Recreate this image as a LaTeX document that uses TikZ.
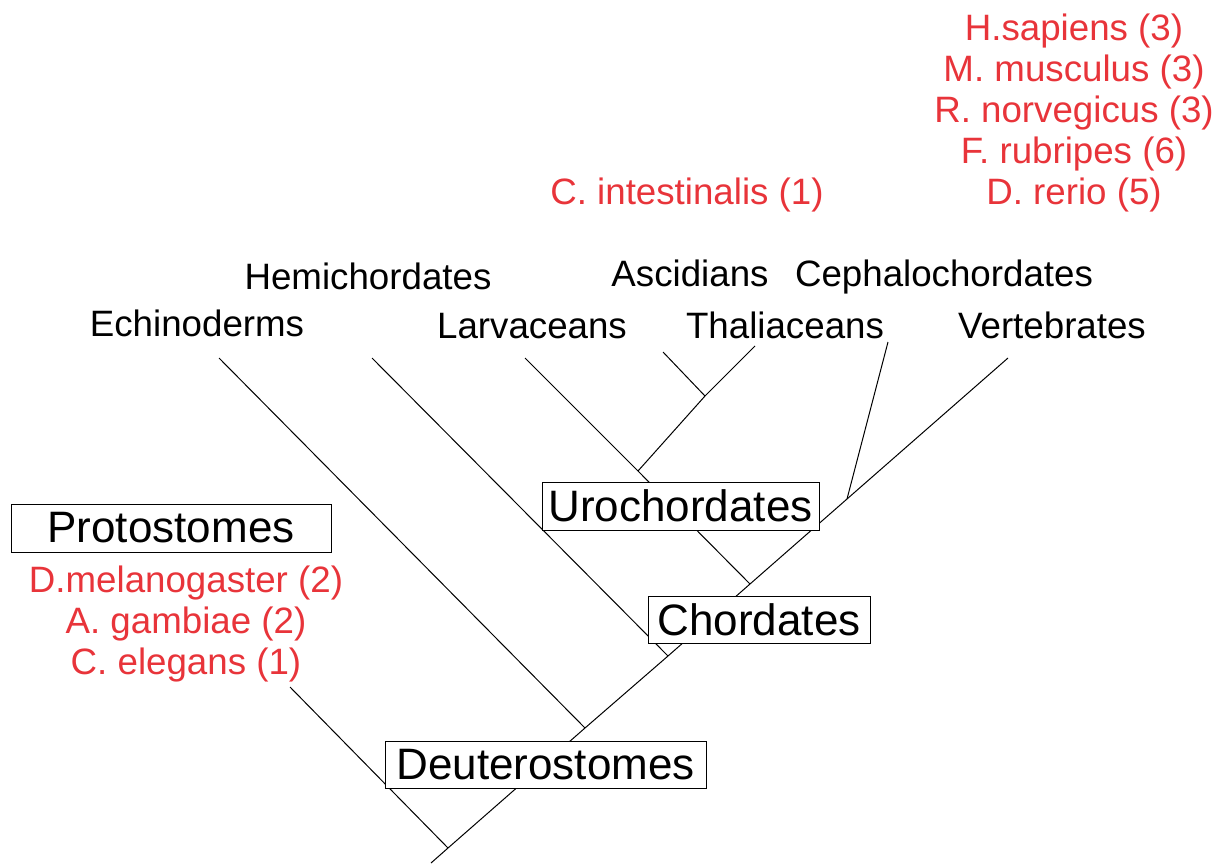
\documentclass[tikz,border=0pt]{standalone}
\usepackage{fontspec}
\setmainfont{Liberation Sans}
\usetikzlibrary{positioning}
\definecolor{specred}{RGB}{232,52,58}

\begin{document}
\begin{tikzpicture}[x=1pt,y=-1pt,
          every node/.style={font=\fontsize{36.7}{41}\selectfont,inner sep=0pt},
          taxon/.style={anchor=base},
          species/.style={anchor=base,text=specred},
          clade/.style={draw,fill=white,line width=1pt,font=\fontsize{44}{50}\selectfont},
          branch/.style={line width=1pt},
        ]
        \useasboundingbox (0,0) rectangle (1216,863);
        % taxon labels
        \node[taxon] (echi) at (197,336) {Echinoderms};
        \node[taxon] (hemi) at (368,289) {Hemichordates};
        \node[taxon] (larv) at (532,338) {Larvaceans};
        \node[taxon] (asci) at (690,286) {Ascidians};
        \node[taxon] (thal) at (785,338) {Thaliaceans};
        \node[taxon] (ceph) at (944,286) {Cephalochordates};
        \node[taxon] (vert) at (1052,338) {Vertebrates};
        % species
        \node[species] (hsap) at (1074,40) {H.sapiens (3)};
        \node[species] (mmus) at (1074,81) {M. musculus (3)};
        \node[species] (rnor) at (1074,122) {R. norvegicus (3)};
        \node[species] (frub) at (1074,163) {F. rubripes (6)};
        \node[species] (drer) at (1074,204) {D. rerio (5)};
        \node[species] (cint) at (687,204) {C. intestinalis (1)};
        \node[species] (dmel) at (186,592) {D.melanogaster (2)};
        \node[species] (agam) at (186,633) {A. gambiae (2)};
        \node[species] (cele) at (186,674) {C. elegans (1)};
        % tips and branch points
        \coordinate (root) at (431,863);
        \coordinate (r0) at (448,848);
        \coordinate (d1) at (585,728);
        \coordinate (c1) at (668,656);
        \coordinate (c2) at (750,584);
        \coordinate (v1) at (847,499);
        \coordinate (u1) at (638,471);
        \coordinate (a1) at (705,396);
        \coordinate (tproto) at (290,687);
        \coordinate (techi) at (219,358);
        \coordinate (themi) at (372,358);
        \coordinate (tlarv) at (525,358);
        \coordinate (tasci) at (663,352);
        \coordinate (tthal) at (755,346);
        \coordinate (tceph) at (888,342);
        \coordinate (tvert) at (1008,358);
        \draw[branch] (root) -- (r0) -- (d1) -- (c1) -- (c2) -- (v1) -- (tvert);
        \draw[branch] (tproto) -- (r0);
        \draw[branch] (techi) -- (d1);
        \draw[branch] (themi) -- (c1);
        \draw[branch] (tlarv) -- (u1) -- (c2);
        \draw[branch] (tthal) -- (a1) -- (u1);
        \draw[branch] (tasci) -- (a1);
        \draw[branch] (tceph) -- (v1);
        % clade boxes
        \node[clade,minimum width=320,minimum height=48] (proto) at (171,528) {Protostomes};
        \node[clade,minimum width=277,minimum height=48] (uro) at (680.5,506) {Urochordates};
        \node[clade,minimum width=222,minimum height=47] (chor) at (759,619.5) {Chordates};
        \node[clade,minimum width=321,minimum height=47] (deut) at (545.5,764.5) {Deuterostomes};
      \end{tikzpicture}
\end{document}
